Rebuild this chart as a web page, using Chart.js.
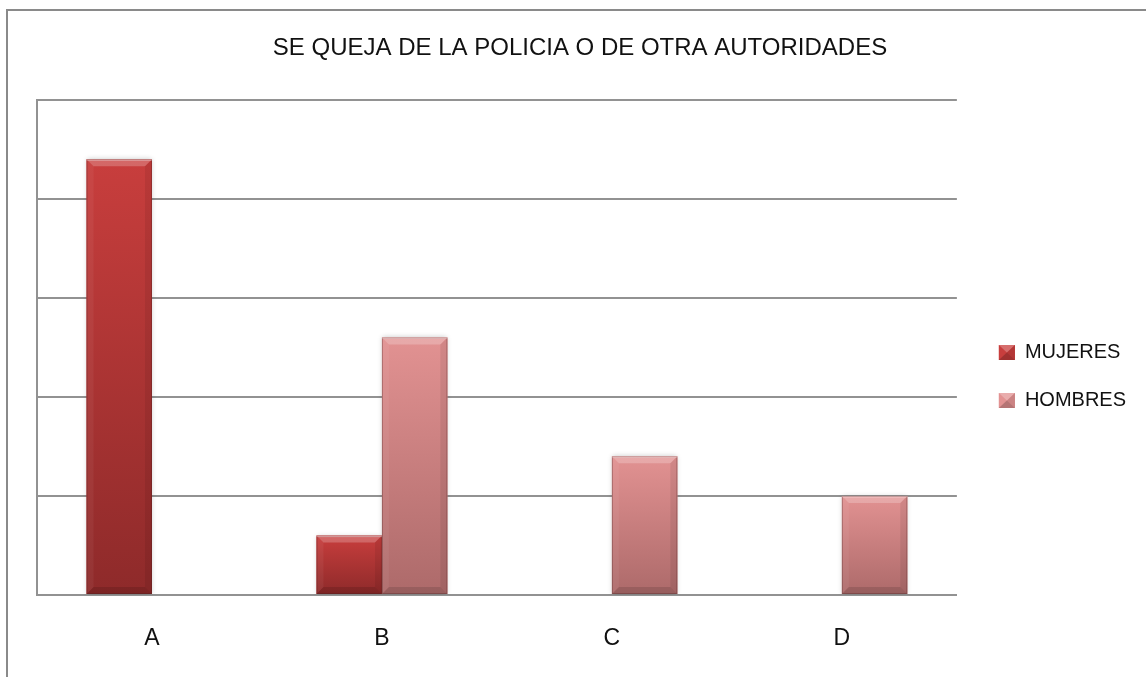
<!DOCTYPE html>
<html>
<head>
<meta charset="utf-8">
<title>Se queja de la policia</title>
<script src="https://cdn.jsdelivr.net/npm/chart.js@4/dist/chart.umd.min.js"></script>
<style>
  html, body { margin: 0; padding: 0; background: #fff; overflow: hidden; }
  #wrap { position: relative; width: 1146px; height: 677px; }
  #frame {
    position: absolute; left: 6px; top: 9px; width: 1300px; height: 800px;
    border: 2px solid #8a8a8a; box-sizing: border-box;
  }
  canvas { position: absolute; left: 0; top: 0; }
</style>
</head>
<body>
<div id="wrap">
  <div id="frame"></div>
  <canvas id="quejaChart" width="1146" height="677"></canvas>
</div>
<script>
const categories = ["A", "B", "C", "D"];
const mujeres = [22, 3, null, null];
const hombres = [null, 13, 7, 5];
const yTicks = [0, 5, 10, 15, 20, 25];

const FONT = "'Liberation Sans', Arial, sans-serif";
const GRID = "#929292";

// colours for each series: [top, bottom] of the bar gradient
const shades = [
  ["#c83e3d", "#8e2a2a"],
  ["#e29292", "#ad6a6a"]
];

// gives the bars the bevelled, shaded look
const bevelPlugin = {
  id: "bevel",
  beforeDatasetsDraw(chart) {
    const ctx = chart.ctx;
    ctx.save();
    ctx.shadowColor = "rgba(0,0,0,0.22)";
    ctx.shadowBlur = 5;
    ctx.shadowOffsetX = 0;
    ctx.shadowOffsetY = 0;
  },
  afterDatasetsDraw(chart) {
    const ctx = chart.ctx;
    ctx.restore();
    chart.data.datasets.forEach((ds, di) => {
      const meta = chart.getDatasetMeta(di);
      meta.data.forEach((el, i) => {
        if (ds.data[i] == null) return;
        const p = el.getProps(["x", "y", "base", "width"], true);
        const l = p.x - p.width / 2, r = p.x + p.width / 2;
        const t = Math.min(p.y, p.base), b = Math.max(p.y, p.base);
        const g = ctx.createLinearGradient(0, t, 0, b);
        g.addColorStop(0, shades[di][0]);
        g.addColorStop(1, shades[di][1]);
        ctx.save();
        ctx.fillStyle = g;
        ctx.fillRect(l, t, r - l, b - t);
        const e = Math.min(7, (b - t) / 3);
        const quad = (pts, col) => {
          ctx.beginPath();
          ctx.moveTo(pts[0][0], pts[0][1]);
          for (let k = 1; k < pts.length; k++) ctx.lineTo(pts[k][0], pts[k][1]);
          ctx.closePath();
          ctx.fillStyle = col;
          ctx.fill();
        };
        quad([[l, t], [r, t], [r - e, t + e], [l + e, t + e]], "rgba(255,255,255,0.22)");
        quad([[l, b], [r, b], [r - e, b - e], [l + e, b - e]], "rgba(0,0,0,0.12)");
        quad([[l, t], [l + e, t + e], [l + e, b - e], [l, b]], "rgba(255,255,255,0.05)");
        quad([[r, t], [r - e, t + e], [r - e, b - e], [r, b]], "rgba(0,0,0,0.07)");
        ctx.fillStyle = "rgba(255,225,225,0.6)";
        ctx.fillRect(l, t, r - l, 1.5);
        ctx.strokeStyle = "rgba(70,30,30,0.3)";
        ctx.lineWidth = 1;
        ctx.strokeRect(l + 0.5, t + 0.5, r - l - 1, b - t - 1);
        ctx.restore();
      });
    });
  },
  afterDraw(chart) {
    // pyramid look on the legend swatches
    const lg = chart.legend;
    if (!lg || !lg.legendHitBoxes) return;
    const ctx = chart.ctx;
    const bw = 16, bh = 15;
    lg.legendHitBoxes.forEach((hb, i) => {
      const x = hb.left, y = hb.top + (hb.height - bh) / 2;
      const cx = x + bw / 2, cy = y + bh / 2;
      const tri = (a, c, col) => {
        ctx.beginPath();
        ctx.moveTo(a[0], a[1]); ctx.lineTo(c[0], c[1]); ctx.lineTo(cx, cy);
        ctx.closePath(); ctx.fillStyle = col; ctx.fill();
      };
      ctx.save();
      ctx.fillStyle = shades[i][0];
      ctx.fillRect(x, y, bw, bh);
      tri([x, y], [x + bw, y], "rgba(255,255,255,0.25)");
      tri([x, y + bh], [x + bw, y + bh], "rgba(0,0,0,0.2)");
      tri([x + bw, y], [x + bw, y + bh], "rgba(0,0,0,0.1)");
      ctx.restore();
    });
  }
};

const ctx = document.getElementById("quejaChart").getContext("2d");

new Chart(ctx, {
  type: "bar",
  data: {
    labels: categories,
    datasets: [
      {
        label: "MUJERES",
        data: mujeres,
        backgroundColor: shades[0][0],
        borderWidth: 0
      },
      {
        label: "HOMBRES",
        data: hombres,
        backgroundColor: shades[1][0],
        borderWidth: 0
      }
    ]
  },
  options: {
    responsive: false,
    animation: false,
    events: [],
    layout: { padding: { left: 24, right: 10, top: 0, bottom: 26 } },
    datasets: {
      bar: { categoryPercentage: 0.569, barPercentage: 1.0 }
    },
    plugins: {
      title: {
        display: true,
        text: "SE QUEJA DE LA POLICIA O DE OTRA AUTORIDADES",
        color: "#111",
        font: { family: FONT, size: 24, weight: "normal" },
        padding: { top: 34, bottom: 37 }
      },
      legend: {
        position: "right",
        align: "center",
        title: {
          display: true,
          text: " ",
          font: { size: 10 },
          padding: { top: 45, bottom: 45 }
        },
        labels: {
          color: "#111",
          font: { family: FONT, size: 20 },
          boxWidth: 16,
          boxHeight: 15,
          padding: 28
        }
      },
      tooltip: { enabled: false }
    },
    scales: {
      x: {
        afterFit(axis) { axis.height = 56; },
        grid: { display: false, drawTicks: false },
        border: { display: true, color: GRID, width: 2 },
        ticks: { color: "#111", padding: 30, font: { family: FONT, size: 23 } }
      },
      y: {
        min: yTicks[0],
        max: yTicks[yTicks.length - 1],
        afterBuildTicks(axis) {
          axis.ticks = yTicks.map(v => ({ value: v }));
        },
        afterFit(axis) { axis.width = 13; },
        grid: { color: GRID, lineWidth: 2, drawTicks: false },
        border: { display: true, color: GRID, width: 2 },
        ticks: { display: false }
      },
      gap: {
        position: "right",
        afterFit(axis) { axis.width = 14; },
        grid: { display: false, drawTicks: false },
        border: { display: false },
        ticks: { display: false }
      }
    }
  },
  plugins: [bevelPlugin]
});
</script>
</body>
</html>
